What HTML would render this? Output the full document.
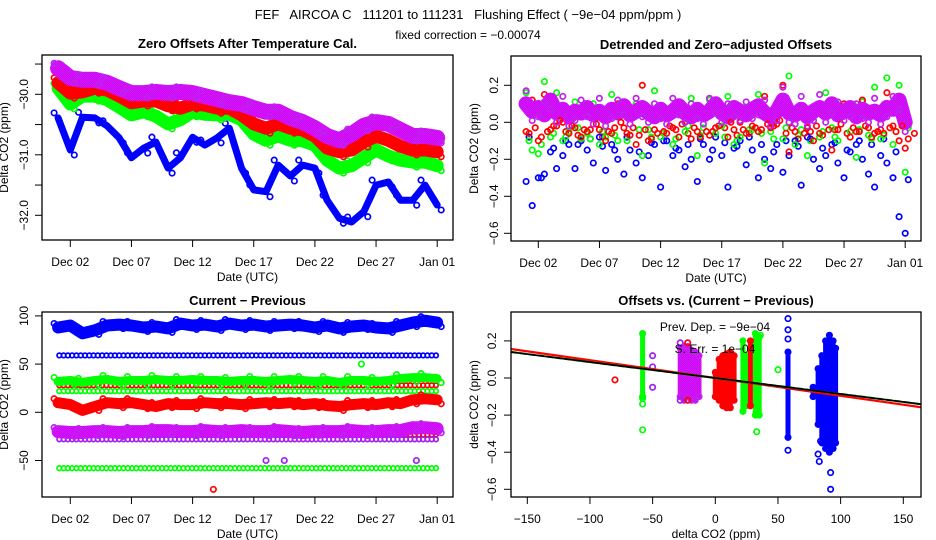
<!DOCTYPE html>
<html><head><meta charset="utf-8"><style>
html,body{margin:0;padding:0;background:#fff;}
svg{display:block;font-family:"Liberation Sans",Arial,sans-serif;}
</style></head><body>
<svg id="chart" width="936" height="540" viewBox="0 0 936 540">
<defs>
<pattern id="chk" width="2" height="2" patternUnits="userSpaceOnUse">
<rect width="2" height="2" fill="#a020f0"/><rect width="1" height="1" fill="#ff00ff"/><rect x="1" y="1" width="1" height="1" fill="#ff00ff"/>
</pattern>
</defs>
<rect x="0" y="0" width="936" height="540" fill="#fff"/>
<text x="468" y="19" font-size="13" text-anchor="middle" style="white-space:pre">FEF   AIRCOA C   111201 to 111231   Flushing Effect ( −9e−04 ppm/ppm )</text>
<text x="468" y="39" font-size="12" text-anchor="middle">fixed correction = −0.00074</text>
</svg>
<script>
// ---------- data ----------
const p1Purple=[-29.57,-29.73,-29.76,-29.76,-29.81,-29.90,-29.98,-29.98,-29.96,-29.98,-29.96,-29.98,-30.03,-30.08,-30.13,-30.16,-30.23,-30.29,-30.29,-30.39,-30.46,-30.56,-30.69,-30.76,-30.66,-30.52,-30.46,-30.49,-30.59,-30.69,-30.69,-30.72];
const p1Red=[-29.81,-29.98,-29.96,-29.90,-29.93,-30.03,-30.14,-30.11,-30.11,-30.19,-30.23,-30.16,-30.18,-30.23,-30.23,-30.34,-30.49,-30.56,-30.49,-30.56,-30.59,-30.69,-30.89,-30.95,-30.92,-30.79,-30.69,-30.76,-30.86,-30.92,-30.92,-30.95];
const p1Green=[-29.90,-30.16,-30.03,-30.03,-30.09,-30.21,-30.34,-30.29,-30.36,-30.49,-30.42,-30.29,-30.33,-30.34,-30.33,-30.42,-30.66,-30.76,-30.69,-30.76,-30.77,-30.84,-31.09,-31.22,-31.18,-31.05,-30.92,-31.02,-31.09,-31.12,-31.12,-31.18];
const p1Blue=[-30.39,-30.92,-30.38,-30.39,-30.52,-30.72,-31.05,-30.89,-30.79,-31.22,-31.05,-30.71,-30.84,-30.72,-30.56,-31.22,-31.58,-31.61,-31.17,-31.35,-31.17,-31.22,-31.75,-32.05,-32.11,-31.94,-31.50,-31.45,-31.75,-31.75,-31.50,-31.83];
const p1YTicks=[-29.5,-30.0,-30.5,-31.0,-31.5,-32.0];
const p1YLabels=['','-30.0','','-31.0','','-32.0'];
const dateTicks=[0,5,10,15,20,25,30];
const dateLabels=['Dec 02','Dec 07','Dec 12','Dec 17','Dec 22','Dec 27','Jan 01'];
const p2Purple=[0.10,0.06,0.08,0.04,0.12,0.05,0.07,0.03,0.06,0.05,0.08,0.04,0.06,0.03,0.07,0.05,0.09,0.04,0.06,0.08,0.05,0.03,0.07,0.04,0.06,0.09,0.05,0.03,0.07,0.04,0.06,0.10,0.05,0.03,0.08,0.06,0.04,0.07,0.09,0.05,0.03,0.06,0.12,0.05,0.04,0.07,0.03,0.06,0.08,0.05,0.10,0.04,0.06,0.08,0.03,0.07,0.05,0.06,0.04,0.08,0.07,0.12,0.00];
const p2Red=[-0.05,0.12,-0.10,0.15,-0.04,-0.02,0.00,-0.06,-0.03,-0.08,-0.05,0.02,-0.04,-0.10,-0.06,0.10,-0.03,-0.07,-0.12,0.20,-0.10,-0.04,0.02,-0.06,-0.03,-0.08,0.00,-0.09,-0.05,0.04,-0.07,-0.03,0.09,-0.08,-0.04,0.00,-0.06,-0.02,-0.05,0.14,-0.03,-0.01,0.20,-0.16,-0.05,0.08,-0.03,-0.10,-0.06,0.05,-0.15,-0.04,0.10,-0.08,-0.05,0.12,-0.03,-0.06,-0.04,0.16,-0.02,-0.10,-0.14];
const p2Green=[0.16,-0.15,-0.17,0.22,-0.08,0.16,-0.10,-0.05,0.11,-0.09,-0.06,0.10,-0.12,-0.08,0.15,-0.10,0.05,-0.07,0.10,-0.18,-0.04,0.17,-0.08,0.02,-0.12,0.10,-0.05,0.13,-0.18,-0.03,0.12,-0.06,-0.02,0.14,-0.12,-0.08,0.08,-0.04,0.15,-0.22,-0.05,0.06,-0.09,0.25,-0.12,-0.04,-0.18,0.05,-0.08,0.16,-0.03,-0.10,0.08,-0.05,-0.19,0.11,-0.07,0.19,-0.09,0.24,-0.12,0.20,-0.27];
const p2Blue=[-0.32,-0.45,-0.30,-0.28,-0.16,-0.25,-0.18,-0.12,-0.25,-0.10,-0.15,-0.22,-0.08,-0.26,-0.12,-0.20,-0.28,-0.15,-0.22,-0.30,-0.18,-0.12,-0.35,-0.10,-0.18,-0.15,-0.24,-0.20,-0.32,-0.12,-0.20,-0.08,-0.18,-0.35,-0.14,-0.10,-0.23,-0.15,-0.30,-0.20,-0.25,-0.12,-0.27,-0.18,-0.10,-0.34,-0.08,-0.20,-0.25,-0.18,-0.12,-0.22,-0.30,-0.16,-0.12,-0.20,-0.28,-0.35,-0.18,-0.22,-0.30,-0.51,-0.60];
// denser cores (daily, start t=-0.75)
const p2RedCore=[-0.06,-0.08,-0.02,-0.05,-0.07,-0.04,-0.08,-0.03,-0.06,-0.07,-0.09,-0.05,-0.04,-0.06,-0.08,-0.05,-0.03,-0.07,-0.06,-0.04,-0.02,-0.06,-0.09,-0.05,-0.07,-0.04,-0.06,-0.05,-0.08,-0.06,-0.05,-0.09];
const p2GreenCore=[-0.10,-0.12,-0.06,-0.08,-0.03,-0.09,-0.05,-0.07,-0.10,-0.04,-0.08,-0.06,-0.09,-0.02,-0.07,-0.05,-0.08,-0.10,-0.04,-0.06,-0.09,-0.03,-0.07,-0.10,-0.05,-0.08,-0.06,-0.04,-0.09,-0.07,-0.05,-0.03];
const p2BlueCore=[-0.08,-0.30,-0.14,-0.10,-0.12,-0.09,-0.13,-0.15,-0.08,-0.16,-0.11,-0.10,-0.14,-0.12,-0.09,-0.15,-0.11,-0.13,-0.08,-0.12,-0.16,-0.10,-0.13,-0.09,-0.14,-0.11,-0.15,-0.10,-0.12,-0.09,-0.16,-0.31];
const p2YTicks=[0.2,0.0,-0.2,-0.4,-0.6];
const p2YLabels=['0.2','0.0','-0.2','-0.4','-0.6'];
const p3BlueHigh=[88,90,82,85,90,91,90,88,89,87,92,90,91,89,92,90,91,89,90,91,90,88,90,87,89,90,88,87,90,93,95,93];
const p3GreenBand=[32,33,31,33,34,32,33,33,34,33,33,34,33,33,32,33,33,32,33,34,33,32,33,31,33,33,32,33,35,36,36,35];
const p3RedBand=[10,8,2,6,10,9,10,8,6,9,8,8,10,9,9,8,9,10,9,10,8,9,7,6,8,9,8,10,9,13,14,13];
const p3PurpleBand=[-20,-21,-21,-20,-20,-21,-20,-20,-19,-19,-20,-20,-19,-20,-20,-19,-20,-20,-19,-20,-21,-20,-20,-20,-19,-20,-20,-19,-19,-16,-16,-17];
const p3LevelValues=[59,28,22,-23,-28,-58];
const p3LevelColors=['#0000ff','#ff0000','#00ff00','#ff0000','#a020f0','#00ff00'];
const p3OutlierT=[23.8,11.7,16,17.5,28.3];
const p3OutlierV=[50,-80,-50,-50,-50];
const p3OutlierC=['#00ff00','#ff0000','#a020f0','#a020f0','#a020f0'];
const p3YTicks=[100,50,0,-50];
const p3YLabels=['100','50','0','-50'];
const p4ColX=[-58,-28,-25,-22,-19,-16,-13,0,3,6,9,12,15,22,25,32,35,28,58,78,82,85,88,91,94,96];
const p4ColLo=[-0.10,-0.10,-0.12,-0.10,-0.12,-0.12,-0.10,-0.10,-0.12,-0.15,-0.16,-0.16,-0.12,-0.18,-0.15,-0.20,-0.20,-0.15,-0.32,-0.10,-0.25,-0.35,-0.38,-0.40,-0.38,-0.35];
const p4ColHi=[0.24,0.16,0.17,0.17,0.15,0.14,0.12,0.03,0.10,0.12,0.13,0.14,0.12,0.20,0.12,0.24,0.22,0.20,0.14,-0.05,0.05,0.12,0.20,0.23,0.20,0.16];
const p4ColC=['#00ff00','url(#chk)','url(#chk)','url(#chk)','url(#chk)','url(#chk)','url(#chk)','#ff0000','#ff0000','#ff0000','#ff0000','#ff0000','#ff0000','#00ff00','#00ff00','#00ff00','#00ff00','#ff0000','#0000ff','#0000ff','#0000ff','#0000ff','#0000ff','#0000ff','#0000ff','#0000ff'];
const p4PtX=[-58,-58,-58,-50,-50,-50,-28,-28,-80,-22,-22,33,50,36,58,58,58,58,92,92,83,82,84];
const p4PtY=[-0.28,-0.14,-0.11,0.12,0.06,-0.05,0.19,-0.12,-0.01,0.19,-0.12,-0.29,0.045,0.23,0.32,0.26,0.21,-0.39,-0.51,-0.60,-0.45,-0.41,-0.34];
const p4PtC=['#00ff00','#00ff00','#00ff00','#a020f0','#a020f0','#a020f0','#a020f0','#a020f0','#ff0000','#ff0000','#ff0000','#00ff00','#00ff00','#00ff00','#0000ff','#0000ff','#0000ff','#0000ff','#0000ff','#0000ff','#0000ff','#0000ff','#0000ff'];
const fitSlopes=[-0.00096,-0.00086,-0.00086];
const fitColors=['#ff0000','#00cc00','#000000'];
const p4XTicks=[-150,-100,-50,0,50,100,150];
const p4YTicks=[0.2,0.0,-0.2,-0.4,-0.6];
const p4YLabels=['0.2','0.0','-0.2','-0.4','-0.6'];

// ---------- drawing ----------
const NS='http://www.w3.org/2000/svg';
const svg=document.getElementById('chart');
function mk(tag,parent){const e=document.createElementNS(NS,tag);(parent||svg).appendChild(e);return e;}
function txt(parent,x,y,s,size,anchor,rot,bold){
  const t=mk('text',parent);
  t.setAttribute('x',x);t.setAttribute('y',y);t.setAttribute('font-size',size);
  t.setAttribute('text-anchor',anchor||'middle');
  if(rot) t.setAttribute('transform','rotate(-90 '+x+' '+y+')');
  if(bold) t.setAttribute('font-weight','bold');
  t.textContent=s.replace(/-/g,'\u2212');
  return t;
}
function circ(parent,x,y,color,r){
  const c=mk('circle',parent);
  c.setAttribute('cx',x.toFixed(1));c.setAttribute('cy',y.toFixed(1));c.setAttribute('r',r||2.7);
  c.setAttribute('fill','none');c.setAttribute('stroke',color);c.setAttribute('stroke-width',1.7);
  return c;
}
function panel(name,x0,x1,y0,y1,title,xlab,ylab,yTicks,yLabels,ys,xTicks,xLabels,xs,ylx,yax){
  const g=mk('g');
  
  
  const clip=mk('clipPath',g);clip.setAttribute('id',name+'-clip');
  const cr=mk('rect',clip);cr.setAttribute('x',x0);cr.setAttribute('y',y0);cr.setAttribute('width',x1-x0);cr.setAttribute('height',y1-y0);
  const plot=mk('g',g);plot.setAttribute('clip-path','url(#'+name+'-clip)');
  
  
  const box=mk('rect',g);
  box.setAttribute('x',x0);box.setAttribute('y',y0);box.setAttribute('width',x1-x0);box.setAttribute('height',y1-y0);
  box.setAttribute('fill','none');box.setAttribute('stroke','#000');box.setAttribute('stroke-width',1.3);
  
  
  const tt=txt(g,(x0+x1)/2,y0-7,title,13,'middle',false,true);
  
  
  yTicks.forEach((v,i)=>{
    const y=ys(v);
    const l=mk('line',g);l.setAttribute('x1',x0);l.setAttribute('x2',x0-7);l.setAttribute('y1',y);l.setAttribute('y2',y);l.setAttribute('stroke','#000');
    
    
    if(yLabels[i]){const t=txt(g,ylx+4,y,yLabels[i],12,'middle',true);
      
      }
  });
  xTicks.forEach((v,i)=>{
    const x=xs(v);
    const l=mk('line',g);l.setAttribute('x1',x);l.setAttribute('x2',x);l.setAttribute('y1',y1);l.setAttribute('y2',y1+7);l.setAttribute('stroke','#000');
    
    
    const t=txt(g,x,y1+26,xLabels[i],12,'middle');
    
    
  });
  const xl=txt(g,(x0+x1)/2,y1+41,xlab,12,'middle');
  
  
  const yl=txt(g,yax,(y0+y1)/2,ylab,12,'middle',true);
  
  
  return plot;
}
function band(parent,vals,t0,dt,xs,ys,stroke,w){
  const pl=mk('polyline',parent);
  pl.setAttribute('points',vals.map((v,i)=>xs(t0+i*dt).toFixed(1)+','+ys(v).toFixed(1)).join(' '));
  pl.setAttribute('fill','none');pl.setAttribute('stroke',stroke);pl.setAttribute('stroke-width',w);
  pl.setAttribute('stroke-linejoin','round');pl.setAttribute('stroke-linecap','round');
  return pl;
}

// Panel 1
const x1s=t=>70.3+12.23*t;
const y1s=v=>94.3+(-30-v)*60.5;
const P1=panel('zero-offsets-panel',42,453,55,240,'Zero Offsets After Temperature Cal.','Date (UTC)','Delta CO2 (ppm)',p1YTicks,p1YLabels,y1s,dateTicks,dateLabels,x1s,24,8);
[[p1Blue,'#0000ff',7,'blue'],[p1Green,'#00ff00',13,'green'],[p1Red,'#ff0000',13,'red'],[p1Purple,'url(#chk)',16,'purple']].forEach(s=>{
  const b=band(P1,s[0],-1,1,x1s,y1s,s[1],s[2]);
  
  
  s[0].forEach((v,i)=>{
    const c=circ(P1,x1s(-1+i)+(i%2?4:-4),y1s(v)+(i%2?5:-5),s[1]==='url(#chk)'?'#c020f0':s[1]);
    
    
  });
});

// Panel 2
const x2s=t=>538.3+12.23*t;
const y2s=v=>122.3-v*185;
const P2=panel('detrended-panel',511,921,56,241,'Detrended and Zero\u2212adjusted Offsets','Date (UTC)','Delta CO2 (ppm)',p2YTicks,p2YLabels,y2s,dateTicks,dateLabels,x2s,494,478);
[[p2BlueCore,'#0000ff','blue'],[p2GreenCore,'#00ff00','green'],[p2RedCore,'#ff0000','red']].forEach(s=>{
  s[0].forEach((v,i)=>{
    const c=circ(P2,x2s(-0.75+i),y2s(v),s[1]);
    
    
  });
});
[[p2Blue,'#0000ff','blue'],[p2Green,'#00ff00','green'],[p2Red,'#ff0000','red']].forEach(s=>{
  s[0].forEach((v,i)=>{
    const c=circ(P2,x2s(-1+i*0.5),y2s(v),s[1]);
    
    
  });
});
const pb=band(P2,p2Purple,-1,0.5,x2s,y2s,'url(#chk)',15);


p2RedCore.forEach((v,i)=>{
  const c=circ(P2,x2s(-0.25+i),y2s(v+0.03),'#ff0000');
  
  
});
p2Purple.forEach((v,i)=>{
  const c=circ(P2,x2s(-1+i*0.5),y2s(v+(i%3===0?0.07:-0.05)),'#c020f0');
  
  
});

// Panel 3
const y3s=v=>412.3-v*0.964;
const P3=panel('current-previous-panel',42,453,312,497,'Current \u2212 Previous','Date (UTC)','Delta CO2 (ppm)',p3YTicks,p3YLabels,y3s,dateTicks,dateLabels,x1s,24,8);
p3LevelValues.forEach((v,k)=>{
  for(let t=-0.9;t<=30.05;t+=0.35){
    const c=circ(P3,x1s(t),y3s(v),p3LevelColors[k],2.3);
    
    
  }
});
[[p3BlueHigh,'#0000ff',12,'blue'],[p3GreenBand,'#00ff00',9,'green'],[p3RedBand,'#ff0000',11,'red'],[p3PurpleBand,'url(#chk)',13,'purple']].forEach(s=>{
  const b=band(P3,s[0],-1,1,x1s,y3s,s[1],s[2]);
  
  
  s[0].forEach((v,i)=>{
    const c=circ(P3,x1s(-1+i)+(i%2?4:-4),y3s(v)+(i%2?4:-4),s[1]==='url(#chk)'?'#c020f0':s[1]);
    
    
  });
});
p3OutlierT.forEach((t,i)=>{
  const c=circ(P3,x1s(t),y3s(p3OutlierV[i]),p3OutlierC[i]);
  
  
});

// Panel 4
const x4s=v=>715.3+v*1.2533;
const y4s=v=>378-v*185.5;
const P4=panel('offsets-vs-difference-panel',511,921,312,497,'Offsets vs. (Current \u2212 Previous)','delta CO2 (ppm)','delta CO2 (ppm)',p4YTicks,p4YLabels,y4s,p4XTicks,p4XTicks.map(String),x4s,492,478);
p4ColX.forEach((x,k)=>{
  const r=mk('rect',P4);
  const ya=y4s(p4ColHi[k]),yb=y4s(p4ColLo[k]);
  r.setAttribute('x',(x4s(x)-2.5).toFixed(1));r.setAttribute('y',(ya-2.5).toFixed(1));
  r.setAttribute('width',5);r.setAttribute('height',(yb-ya+5).toFixed(1));
  r.setAttribute('fill',p4ColC[k]);
  
  
  [p4ColHi[k],p4ColLo[k]].forEach(v=>{
    const c=circ(P4,x4s(x),y4s(v),p4ColC[k]==='url(#chk)'?'#c020f0':p4ColC[k]);
    
    
  });
});
p4PtX.forEach((x,i)=>{
  const c=circ(P4,x4s(x),y4s(p4PtY[i]),p4PtC[i]);
  
  
});
fitSlopes.forEach((s,k)=>{
  const l=mk('line',P4);
  l.setAttribute('x1',x4s(-170));l.setAttribute('y1',y4s(-170*s));
  l.setAttribute('x2',x4s(170));l.setAttribute('y2',y4s(170*s));
  l.setAttribute('stroke',fitColors[k]);l.setAttribute('stroke-width',k===2?1.8:2.2);
  if(k===1) l.setAttribute('stroke-dasharray','6 3');
  
  
});
const a1=txt(P4,715,331,'Prev. Dep. =  -9e-04',12,'middle');


const a2=txt(P4,715,353,'S. Err. =  1e-04',12,'middle');


</script>
</body></html>
